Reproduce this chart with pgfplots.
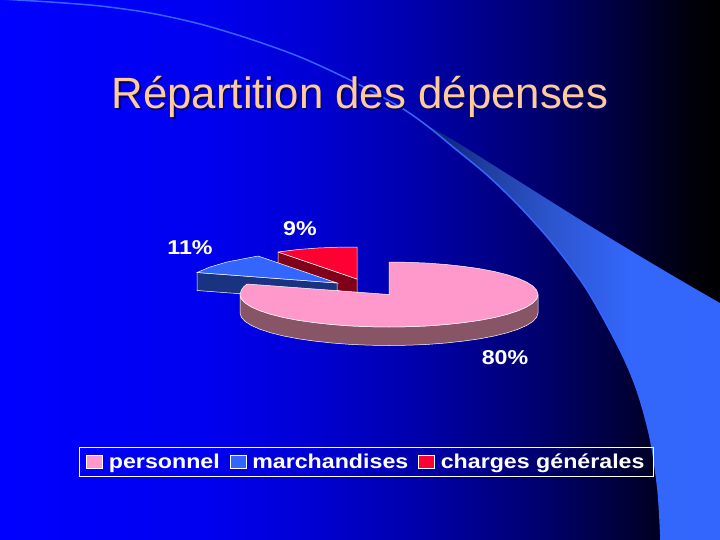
\documentclass[border=0pt]{standalone}
\usepackage{fontspec}
\setmainfont{Liberation Sans}
\newfontfamily\widefont[FakeStretch=1.16]{Liberation Sans}
\usepackage{pgfplots}
\pgfplotsset{compat=1.18}

\definecolor{pinktop}{HTML}{FF99CC}
\definecolor{pinkside}{HTML}{885566}
\definecolor{bluetop}{HTML}{3366FF}
\definecolor{blueside}{HTML}{1A3380}
\definecolor{redtop}{HTML}{FF0033}
\definecolor{redside}{HTML}{80001A}
\definecolor{titlecol}{HTML}{FFCC99}
\definecolor{titleshadow}{HTML}{000070}

% stops: 25bp is the left edge of the path, 75bp the right edge
\pgfdeclarehorizontalshading{slide}{100bp}{
  rgb(0bp)=(0,0,1);
  rgb(25bp)=(0,0,1);
  rgb(39bp)=(0,0,.94);
  rgb(46bp)=(0,0,.84);
  rgb(54bp)=(0,0,.67);
  rgb(62.5bp)=(0,0,.43);
  rgb(68bp)=(0,0,.24);
  rgb(73bp)=(0,0,.04);
  rgb(75bp)=(0,0,0);
  rgb(100bp)=(0,0,0)}
\pgfdeclarehorizontalshading{swoosh}{100bp}{
  rgb(0bp)=(.03,.1,.45);
  rgb(25bp)=(.03,.1,.45);
  rgb(33bp)=(.12,.24,.62);
  rgb(41bp)=(.17,.33,.8);
  rgb(51bp)=(.2,.4,.98);
  rgb(75bp)=(.2,.4,1);
  rgb(100bp)=(.2,.4,1)}

\begin{document}
\begin{tikzpicture}
\begin{axis}[
  scale only axis,
  width=720pt, height=540pt,
  xmin=0, xmax=720, ymin=0, ymax=540,
  y dir=reverse,
  hide axis,
  legend columns=3,
  legend cell align=left,
  legend image code/.code={
    \draw[#1,draw=white,line width=.4pt] (0pt,-6.5pt) rectangle (16pt,6.5pt);
    \path (20pt,0pt);},
  legend style={
    at={(axis cs:366.5,462)}, anchor=center,
    fill=none, draw=white, line width=.6pt,
    text=white,
    font=\widefont\bfseries\fontsize{20}{22}\selectfont,
    inner xsep=7pt, inner ysep=4.5pt,
    /tikz/every even column/.append style={column sep=8pt},
  },
]
% slide background
\addplot[forget plot, draw=none, shade, shading=slide] coordinates {
  (0,0) (720,0) (720,540) (0,540) (0,0)};

% swoosh, runs past the slide so the smoothing of its corners is clipped away
\addplot[forget plot, draw=none, shade, shading=swoosh, smooth] coordinates {
  (420,122) (453,147) (487,175) (520,207) (553,244) (587,290) (620,350)
  (637,390) (650,437) (658,490) (661,540) (662,600) (800,600) (800,347)
  (720,303) (653,264) (587,224) (520,182) (453,140) (420,122)};
\addplot[forget plot, smooth, color=bluetop, line width=1.5pt] coordinates {
  (0,-1) (50,2) (100,6) (150,13) (200,24) (250,39) (300,57) (350,80) (400,107)
  (430,128) (453,147) (487,175) (520,207) (553,244) (587,290) (620,350)
  (637,390) (650,437) (658,490) (661,540)};

% red slice
\addplot[forget plot, fill=redside, draw=white, line width=.5pt] coordinates {
  (278,252) (357,279) (357,297) (278,270) (278,252)};
\addplot[forget plot, fill=redtop, draw=white, line width=.5pt] coordinates {
  (278,252) (298,249.5) (318,248) (338,247.2) (357,247) (357,279) (278,252)};

% blue slice
\addplot[forget plot, fill=blueside, draw=white, line width=.5pt] coordinates {
  (197,272.5) (337,283) (337,301) (197,290.5) (197,272.5)};
\addplot[forget plot, fill=bluetop, draw=white, line width=.5pt] coordinates {
  (258,256) (227,262) (210,267) (197,272.5) (337,283) (258,256)};

% pink slice
\addplot[forget plot, fill=pinkside, draw=white, line width=.5pt] coordinates {
  (538,294.5) (538,313) (536.7,317.2) (532.9,321.4) (526.7,325.4) (518,329.25)
  (507.2,332.8) (494.4,336) (479.7,338.8) (463.5,341.1) (446,343) (427.6,344.4)
  (408.45,345.2) (389,345.5) (369.55,345.2) (350.4,344.4) (332,343) (314.5,341.1)
  (298.3,338.8) (283.6,336) (270.8,332.8) (260,329.25) (251.3,325.4) (245.1,321.4)
  (241.3,317.2) (240,313) (240,294.5) (241.3,298.7) (245.1,302.9) (251.3,306.9)
  (260,310.75) (270.8,314.3) (283.6,317.5) (298.3,320.3) (314.5,322.6) (332,324.5)
  (350.4,325.9) (369.55,326.7) (389,327) (408.45,326.7) (427.6,325.9) (446,324.5)
  (463.5,322.6) (479.7,320.3) (494.4,317.5) (507.2,314.3) (518,310.75) (526.7,306.9)
  (532.9,302.9) (536.7,298.7) (538,294.5)};
\addplot[forget plot, fill=pinktop, draw=white, line width=.5pt] coordinates {
  (389,262) (408.45,262.3) (427.6,263.1) (446,264.5) (463.5,266.4) (479.7,268.7)
  (494.4,271.5) (507.2,274.7) (518,278.25) (526.7,282.1) (532.9,286.1) (536.7,290.3)
  (538,294.5) (536.7,298.7) (532.9,302.9) (526.7,306.9) (518,310.75) (507.2,314.3)
  (494.4,317.5) (479.7,320.3) (463.5,322.6) (446,324.5) (427.6,325.9) (408.45,326.7)
  (389,327) (369.55,326.7) (350.4,325.9) (332,324.5) (314.5,322.6) (298.3,320.3)
  (283.6,317.5) (270.8,314.3) (260,310.75) (251.3,306.9) (245.1,302.9) (241.3,298.7)
  (240,294.5) (241.3,290.3) (243.5,287) (247,284) (389,294.5) (389,262)};

\addlegendimage{fill=pinktop}
\addlegendentry{personnel}
\addlegendimage{fill=bluetop}
\addlegendentry{marchandises}
\addlegendimage{fill=redtop}
\addlegendentry{charges générales}

% data labels
\node[text=white, font=\widefont\bfseries\fontsize{20}{22}\selectfont] at (axis cs:190,248) {11\%};
\node[text=white, font=\widefont\bfseries\fontsize{20}{22}\selectfont] at (axis cs:300,229) {9\%};
\node[text=white, font=\widefont\bfseries\fontsize{20}{22}\selectfont] at (axis cs:505,358) {80\%};

% title with its soft shadow
\node[text=titlecol, font=\fontsize{43.8}{50}\selectfont, anchor=base] at (axis cs:360,109)
  {\rlap{\kern1.6pt\raisebox{-1.6pt}{\textcolor{titleshadow}{Répartition des dépenses}}}Répartition des dépenses};
\end{axis}
\end{tikzpicture}
\end{document}
